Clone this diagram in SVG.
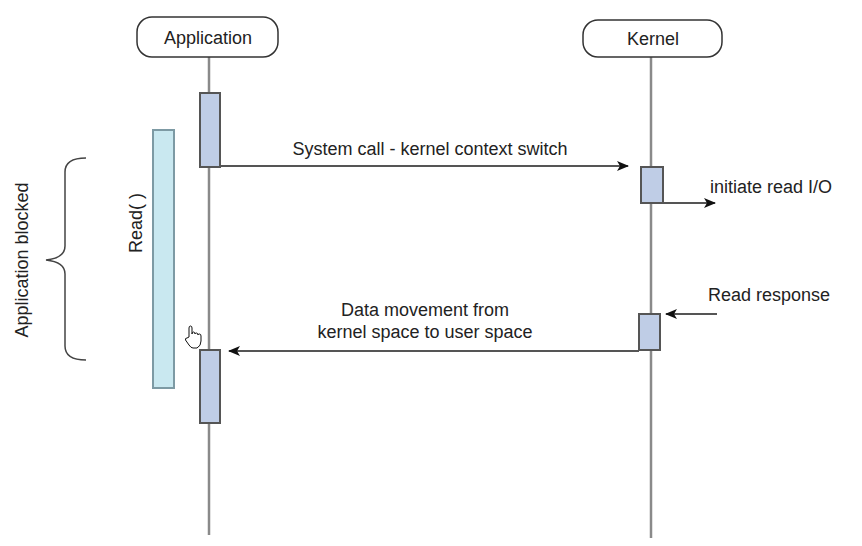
<svg xmlns="http://www.w3.org/2000/svg" width="862" height="546" viewBox="0 0 862 546">
<style>
text{font-family:"Liberation Sans",Arial,sans-serif;font-size:18px;fill:#222}
.head{fill:#fff;stroke:#333;stroke-width:1.5}
.life{stroke:#8a8a8a;stroke-width:2.5;fill:none}
.act{fill:#bfcde6;stroke:#555;stroke-width:2}
.msg{stroke:#555;stroke-width:2;fill:none}
</style>
<defs>
<marker id="ah" viewBox="0 0 12 10" refX="11" refY="5" markerWidth="12" markerHeight="10" markerUnits="userSpaceOnUse" orient="auto">
<path d="M0,0 L12,5 L0,10 L3,5 Z" fill="#111"/>
</marker>
</defs>
<rect width="862" height="546" fill="#fff"/>
<g id="lifelines">
<line class="life" x1="209" y1="57" x2="209" y2="535"/>
<line class="life" x1="651" y1="57" x2="651" y2="538"/>
</g>
<g id="application">
<rect class="head" x="137" y="17" width="141" height="40" rx="15"/>
<text x="208" y="44" text-anchor="middle">Application</text>
</g>
<g id="kernel">
<rect class="head" x="583" y="20" width="139" height="37" rx="15"/>
<text x="653" y="45" text-anchor="middle">Kernel</text>
</g>
<g id="read-bar">
<rect x="153" y="130" width="21" height="258" fill="#c9e8f0" stroke="#7d9aa4" stroke-width="2"/>
<text transform="translate(142,223) rotate(-90)" text-anchor="middle">Read( )</text>
</g>
<g id="app-act-1"><rect class="act" x="200" y="93" width="20" height="74"/></g>
<g id="app-act-2"><rect class="act" x="200" y="350" width="20" height="73"/></g>
<g id="kernel-act-1"><rect class="act" x="641" y="167" width="22" height="36"/></g>
<g id="kernel-act-2"><rect class="act" x="639" y="314" width="21" height="36"/></g>
<g id="connectors">
<line class="msg" x1="220" y1="166" x2="628" y2="166" marker-end="url(#ah)"/>
<line class="msg" x1="663" y1="203" x2="715" y2="203" marker-end="url(#ah)"/>
<line class="msg" x1="717" y1="314" x2="666" y2="314" marker-end="url(#ah)"/>
<line class="msg" x1="639" y1="351" x2="229" y2="351" marker-end="url(#ah)"/>
</g>
<g id="labels">
<text x="430" y="155" text-anchor="middle">System call - kernel context switch</text>
<text x="710" y="193">initiate read I/O</text>
<text x="708" y="301">Read response</text>
<text x="425" y="316" text-anchor="middle">Data movement from</text>
<text x="425" y="338" text-anchor="middle">kernel space to user space</text>
</g>
<g id="blocked">
<path d="M86,158 Q65,158 65,172 V246 Q65,258 46,260 Q65,262 65,274 V346 Q65,360 86,360" fill="none" stroke="#444" stroke-width="1.5"/>
<text transform="translate(28,260) rotate(-90)" text-anchor="middle">Application blocked</text>
</g>
<g id="cursor">
<path d="M189,337 V328 Q189,326 190.5,326 Q192,326 192,328 V334 Q192,332 193.5,332 Q195,332 195,334 Q195,333 196.5,333 Q198,333 198,335 Q198,334 199.5,334 Q201,334 201,336 V341 Q201,346 197,348 H193 Q191,348 189,345 L185.5,340 Q185,338 187,338 Z" fill="#fff" stroke="#111" stroke-width="1"/>
</g>
</svg>
